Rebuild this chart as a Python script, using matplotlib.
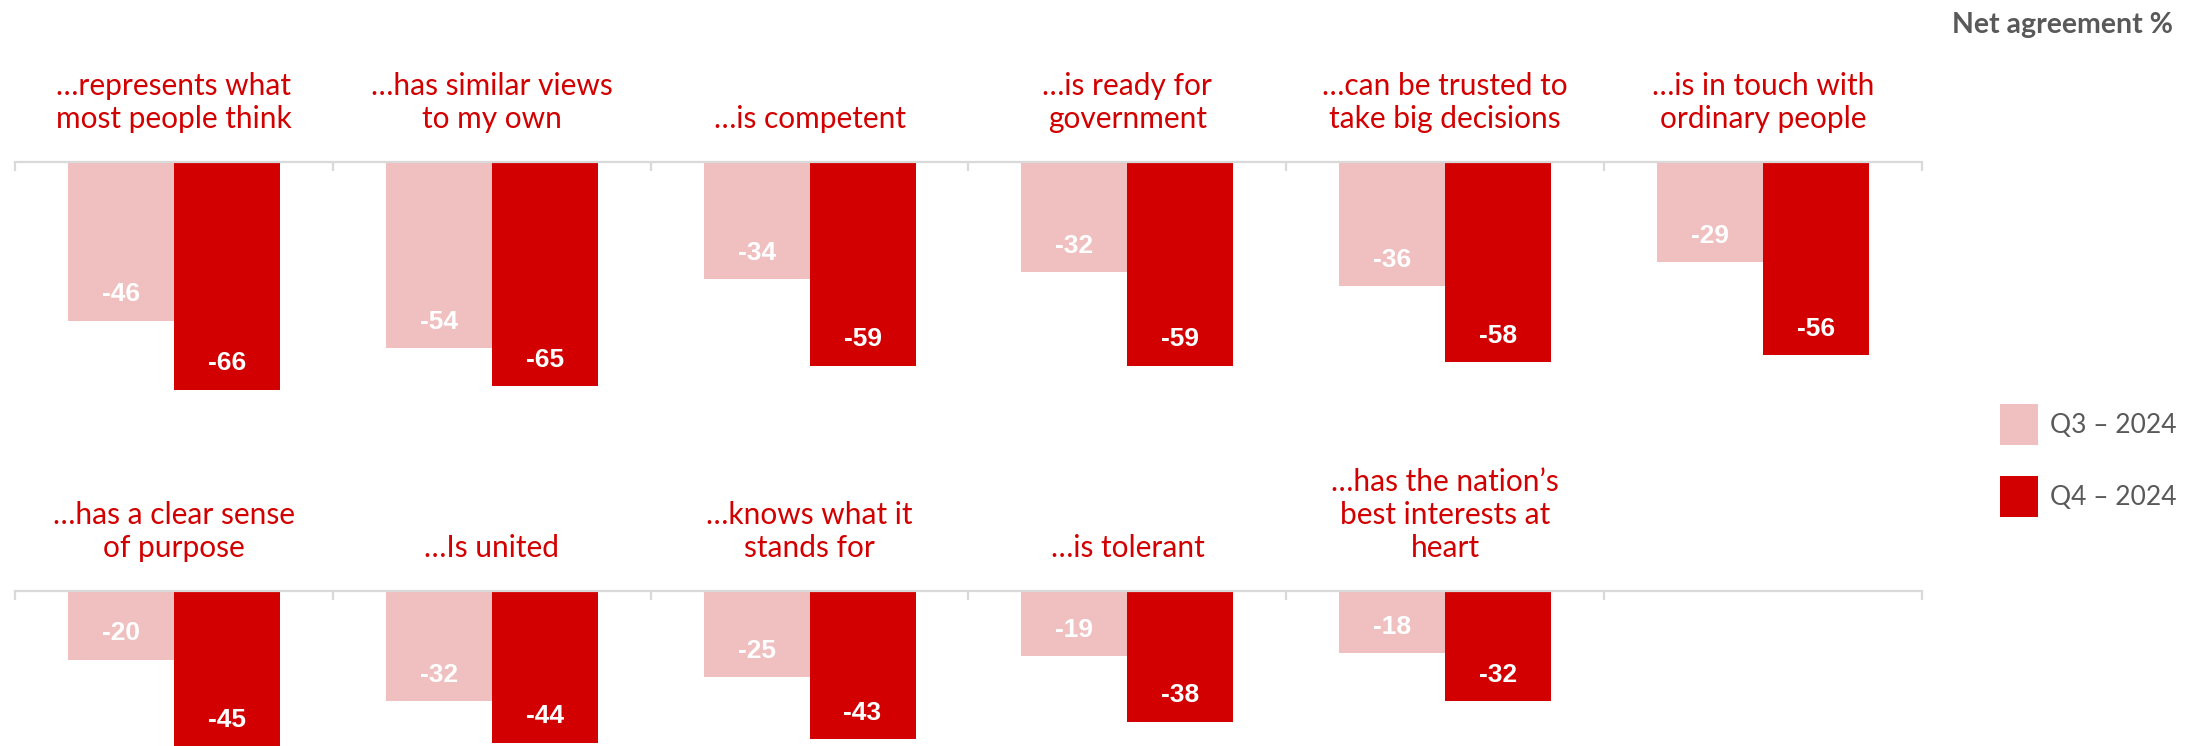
import matplotlib
matplotlib.use("Agg")
import matplotlib.pyplot as plt
import matplotlib.transforms as mtransforms
import numpy as np

top_labels = ["…represents what\nmost people think", "…has similar views\nto my own",
              "…is competent", "…is ready for\ngovernment",
              "…can be trusted to\ntake big decisions", "…is in touch with\nordinary people"]
top_q3 = [-46, -54, -34, -32, -36, -29]
top_q4 = [-66, -65, -59, -59, -58, -56]

bottom_labels = ["…has a clear sense\nof purpose", "…Is united", "…knows what it\nstands for",
                 "…is tolerant", "…has the nation’s\nbest interests at\nheart"]
bottom_q3 = [-20, -32, -25, -19, -18]
bottom_q4 = [-45, -44, -43, -38, -32]

series_names = ["Q3 – 2024", "Q4 – 2024"]

LIGHT = "#f0bfc0"
DARK = "#d20000"
GREY = "#595959"
LABEL_FONT = ["Lato", "DejaVu Sans"]
VALUE_FONT = ["Liberation Sans Narrow", "Liberation Sans", "DejaVu Sans"]

fig = plt.figure(figsize=(22.08, 7.46), dpi=100)

W, H = 2208, 746
left = 15 / W
width = 1907 / W
ax_top = fig.add_axes([left, 1 - 403.5 / H, width, (403.5 - 162) / H])
ax_bot = fig.add_axes([left, 0, width, (746 - 591) / H])


def draw_row(ax, labels, q3, q4, ymin):
    n_slots = 6
    x = np.arange(len(labels)) + 0.5
    b1 = ax.bar(x - 1 / 6, q3, width=1 / 3, color=LIGHT, label=series_names[0])
    b2 = ax.bar(x + 1 / 6, q4, width=1 / 3, color=DARK, label=series_names[1])
    for bars, vals in ((b1, q3), (b2, q4)):
        for rect, v in zip(bars, vals):
            ax.annotate(f"{v}", xy=(rect.get_x() + rect.get_width() / 2, v),
                        xytext=(0, 19), textcoords="offset points",
                        ha="center", va="center", color="white",
                        fontsize=19, fontweight="bold", family=VALUE_FONT)
    ax.set_xlim(0, n_slots)
    ax.set_ylim(ymin, 0)
    for s in ("left", "right", "bottom"):
        ax.spines[s].set_visible(False)
    ax.spines["top"].set_color("#d9d9d9")
    ax.spines["top"].set_linewidth(1.6)
    ax.set_xticks(np.arange(n_slots + 1))
    ax.set_yticks([])
    ax.tick_params(axis="x", bottom=False, top=True, labelbottom=False,
                   direction="in", length=6.5, width=1.6, color="#d9d9d9")
    trans = mtransforms.blended_transform_factory(ax.transData, ax.transAxes)
    for xi, lab in zip(x, labels):
        ax.annotate(lab, xy=(xi, 1), xycoords=trans, xytext=(0, 21),
                    textcoords="offset points", ha="center", va="bottom",
                    ma="center", color=DARK, fontsize=21.5, linespacing=1.22,
                    family=LABEL_FONT)
    return b1, b2


h1, h2 = draw_row(ax_top, top_labels, top_q3, top_q4, -70)
draw_row(ax_bot, bottom_labels, bottom_q3, bottom_q4, -45)

fig.text(2173 / W, 1 - 25 / H, "Net agreement %", ha="right", va="center",
         color=GREY, fontsize=20.5, fontweight="bold", family=LABEL_FONT)

leg = fig.legend(handles=[h1, h2], labels=series_names, loc="upper left",
                 bbox_to_anchor=(2000 / W, 1 - 404 / H), frameon=False,
                 handlelength=1.44, handleheight=2.01, labelspacing=1.17,
                 handletextpad=0.45, borderpad=0, borderaxespad=0,
                 prop={"family": LABEL_FONT, "size": 19})
for t in leg.get_texts():
    t.set_color(GREY)

fig.savefig("out.png", dpi=100)
